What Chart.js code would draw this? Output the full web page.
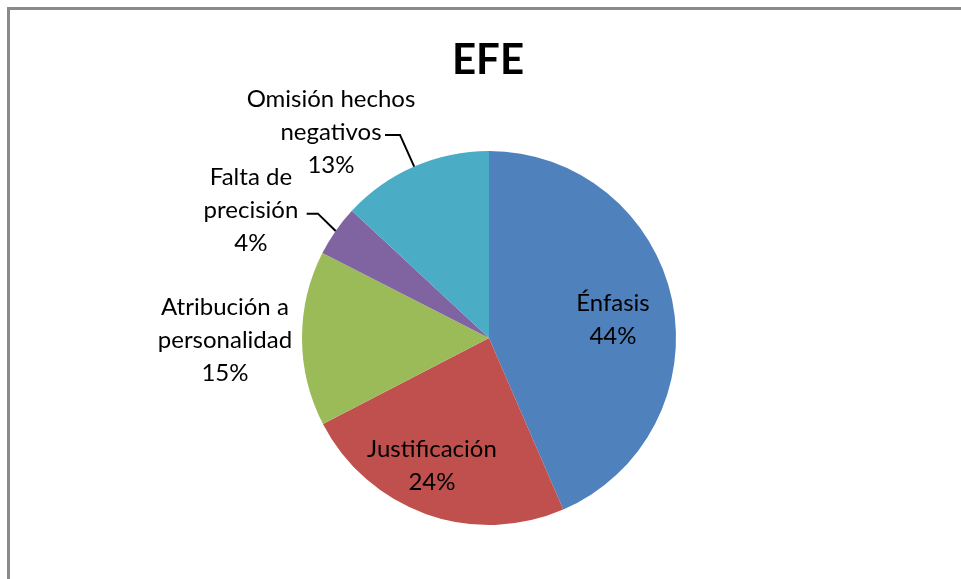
<!DOCTYPE html>
<html>
<head>
<meta charset="utf-8">
<script src="https://cdn.jsdelivr.net/npm/chart.js@4.4.0/dist/chart.umd.min.js"></script>
<style>
  html, body { margin: 0; padding: 0; background: #fff; }
  #wrap { position: relative; width: 961px; height: 579px; overflow: hidden; }
  #frame { position: absolute; left: 7px; top: 7px; right: -10px; bottom: -10px; border-left: 3px solid #8a8a8a; border-top: 3px solid #8a8a8a; }
  canvas { position: absolute; left: 0; top: 0; }
</style>
</head>
<body>
<div id="wrap">
  <div id="frame"></div>
  <canvas id="c" width="961" height="579"></canvas>
</div>
<script>
const title = "EFE";
const categories = ["Énfasis", "Justificación", "Atribución a personalidad", "Falta de precisión", "Omisión hechos negativos"];
const labelLines = [["Énfasis"], ["Justificación"], ["Atribución a", "personalidad"], ["Falta de", "precisión"], ["Omisión hechos", "negativos"]];
const values = [43.5, 23.9, 15.1, 4.4, 13.1];
const colors = ["#4F81BD", "#C0504D", "#9BBB59", "#8064A2", "#4BACC6"];

// label placement: offset of text block centre from pie centre, in units of radius
const labelPlacement = [
  { dx: 0.663, dy: -0.096, leader: false },
  { dx: -0.305, dy: 0.684, leader: false },
  { dx: -1.412, dy: 0.011, leader: false },
  { dx: -1.273, dy: -0.685, leader: true, elbowX: -0.915, elbowY: -0.665, endX: -0.975 },
  { dx: -0.845, dy: -1.102, leader: true, elbowX: -0.476, elbowY: -1.086, endX: -0.556 }
];

const FONT = "Lato, 'Open Sans', sans-serif";
const labelPlugin = {
  id: 'pieLabels',
  afterDraw(chart) {
    const ctx = chart.ctx;
    const meta = chart.getDatasetMeta(0);
    const total = values.reduce((a, b) => a + b, 0);
    ctx.save();
    ctx.fillStyle = '#000';
    ctx.font = "bold 42px " + FONT;
    ctx.textAlign = 'center';
    ctx.textBaseline = 'middle';
    const arc0 = meta.data[0];
    ctx.fillText(title, arc0.x - 1, 60);

    meta.data.forEach((arc, i) => {
      const r = arc.outerRadius;
      const cx = arc.x, cy = arc.y;
      const p = labelPlacement[i];
      const lines = labelLines[i].concat([Math.round(values[i] / total * 100) + "%"]);
      const lh = 33;
      const bx = cx + p.dx * r, by = cy + p.dy * r;
      ctx.font = "24px " + FONT;
      ctx.fillStyle = '#000';
      ctx.textAlign = 'center';
      ctx.textBaseline = 'middle';
      lines.forEach((t, k) => {
        ctx.fillText(t, bx, by + (k - (lines.length - 1) / 2) * lh);
      });
      if (p.leader) {
        const mid = (arc.startAngle + arc.endAngle) / 2;
        const ex = cx + Math.cos(mid) * r, ey = cy + Math.sin(mid) * r;
        ctx.strokeStyle = '#000';
        ctx.lineWidth = 2;
        ctx.beginPath();
        ctx.moveTo(ex, ey);
        ctx.lineTo(cx + p.elbowX * r, cy + p.elbowY * r);
        ctx.lineTo(cx + p.endX * r, cy + p.elbowY * r);
        ctx.stroke();
      }
    });
    ctx.restore();
  }
};

new Chart(document.getElementById('c'), {
  type: 'pie',
  data: {
    labels: categories,
    datasets: [{ data: values, backgroundColor: colors, borderWidth: 0 }]
  },
  options: {
    responsive: false,
    animation: false,
    layout: { padding: { top: 151, bottom: 54, left: 117, right: 100 } },
    plugins: { legend: { display: false }, tooltip: { enabled: false }, title: { display: false } }
  },
  plugins: [labelPlugin]
});
</script>
</body>
</html>
